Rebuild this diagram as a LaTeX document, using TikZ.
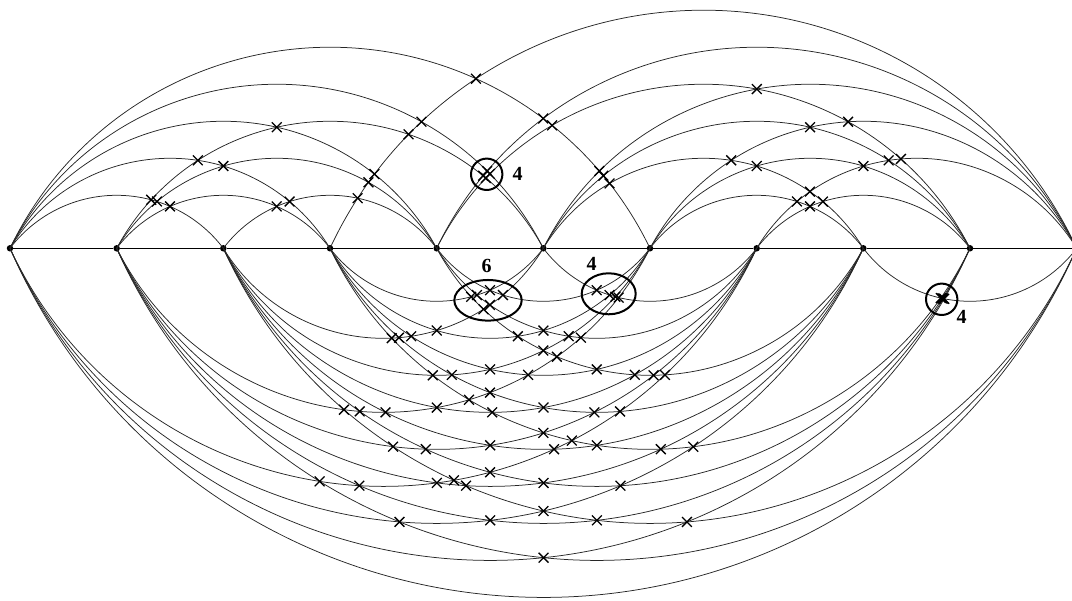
\documentclass[tikz,border=0pt]{standalone}
\usepackage{fontspec}
\setmainfont{Liberation Serif}
\usetikzlibrary{intersections,shapes.misc}
\begin{document}
\begin{tikzpicture}[x=1pt,y=1pt,
  arcline/.style={line width=0.75pt, draw=black!85},
  spine/.style={line width=0.9pt, draw=black},
  xm/.style={draw=black, cross out, minimum size=8.5pt, inner sep=0pt, line width=1.3pt},
  vdot/.style={circle, fill=black, inner sep=0pt, minimum size=6.5pt},
  ring/.style={line width=2pt, draw=black},
  lab/.style={font=\bfseries\fontsize{20}{20}\selectfont, inner sep=0pt}]
\useasboundingbox (0,0) rectangle (1072,601);
\def\Y{352.7}
\def\toplist{0/2,0/3,0/4,0/5,0/6,1/3,1/4,1/5,2/4,3/10,4/9,4/10,5/8,5/9,5/10,6/8,6/9,6/10,7/9,7/10}
\def\botlist{0/7,0/8,0/9,0/10,1/6,1/7,1/8,1/9,1/10,2/5,2/6,2/7,2/8,2/9,2/10,3/5,3/6,3/7,3/8,3/9,4/6,4/7,4/8,5/7,8/10}
% vertices
\foreach \i in {0,...,10}{
  \pgfmathsetmacro\vx{10+106.6667*\i}
  \node[vdot] (v\i) at (\vx,\Y) {};
}
% spine
\foreach \i [evaluate=\i as \j using int(\i+1)] in {0,...,9}{
  \draw[spine] (v\i) -- (v\j);
}
% top arcs
\foreach \ea/\eb in \toplist {
  \pgfmathsetmacro\ha{53.3333*(\eb-\ea)}
  \pgfmathsetmacro\hh{37*(\eb-\ea)-21}
  \pgfmathsetmacro\R{0.5*(\ha*(\ha/\hh)+\hh)}
  \pgfmathsetmacro\be{atan((\R-\hh)/\ha)}
  \draw[arcline, name path global=T\ea-\eb e] (v\ea.center) arc[start angle=180-\be, end angle=\be, radius=\R];
}
% bottom arcs
\foreach \ea/\eb in \botlist {
  \pgfmathsetmacro\ha{53.3333*(\eb-\ea)}
  \pgfmathsetmacro\hh{37*(\eb-\ea)-21}
  \pgfmathsetmacro\R{0.5*(\ha*(\ha/\hh)+\hh)}
  \pgfmathsetmacro\be{atan((\R-\hh)/\ha)}
  \draw[arcline, name path global=B\ea-\eb e] (v\ea.center) arc[start angle=180+\be, end angle=360-\be, radius=\R];
}
% crossings
\foreach \ea/\eb in \toplist {
  \foreach \ec/\ed in \toplist {
    \ifnum\ea<\ec\relax\ifnum\ec<\eb\relax\ifnum\eb<\ed\relax
      \path[name intersections={of=T\ea-\eb e and T\ec-\ed e}] (intersection-1) node[xm]{};
    \fi\fi\fi
  }
}
\foreach \ea/\eb in \botlist {
  \foreach \ec/\ed in \botlist {
    \ifnum\ea<\ec\relax\ifnum\ec<\eb\relax\ifnum\eb<\ed\relax
      \path[name intersections={of=B\ea-\eb e and B\ec-\ed e}] (intersection-1) node[xm]{};
    \fi\fi\fi
  }
}
% clusters
\draw[ring] (486.7,426.7) circle[radius=15.7];
\node[lab] (l1) at (517.7,427) {4};
\draw[ring] (488,300.7) ellipse[x radius=33.7, y radius=20.3];
\node[lab] (l2) at (486.7,335) {6};
\draw[ring] (608.7,307.2) ellipse[x radius=27, y radius=20.5];
\node[lab] (l3) at (591.7,336.7) {4};
\draw[ring] (941.7,301.7) circle[radius=15.7];
\node[lab] (l4) at (961.7,283.7) {4};
\end{tikzpicture}
\end{document}
